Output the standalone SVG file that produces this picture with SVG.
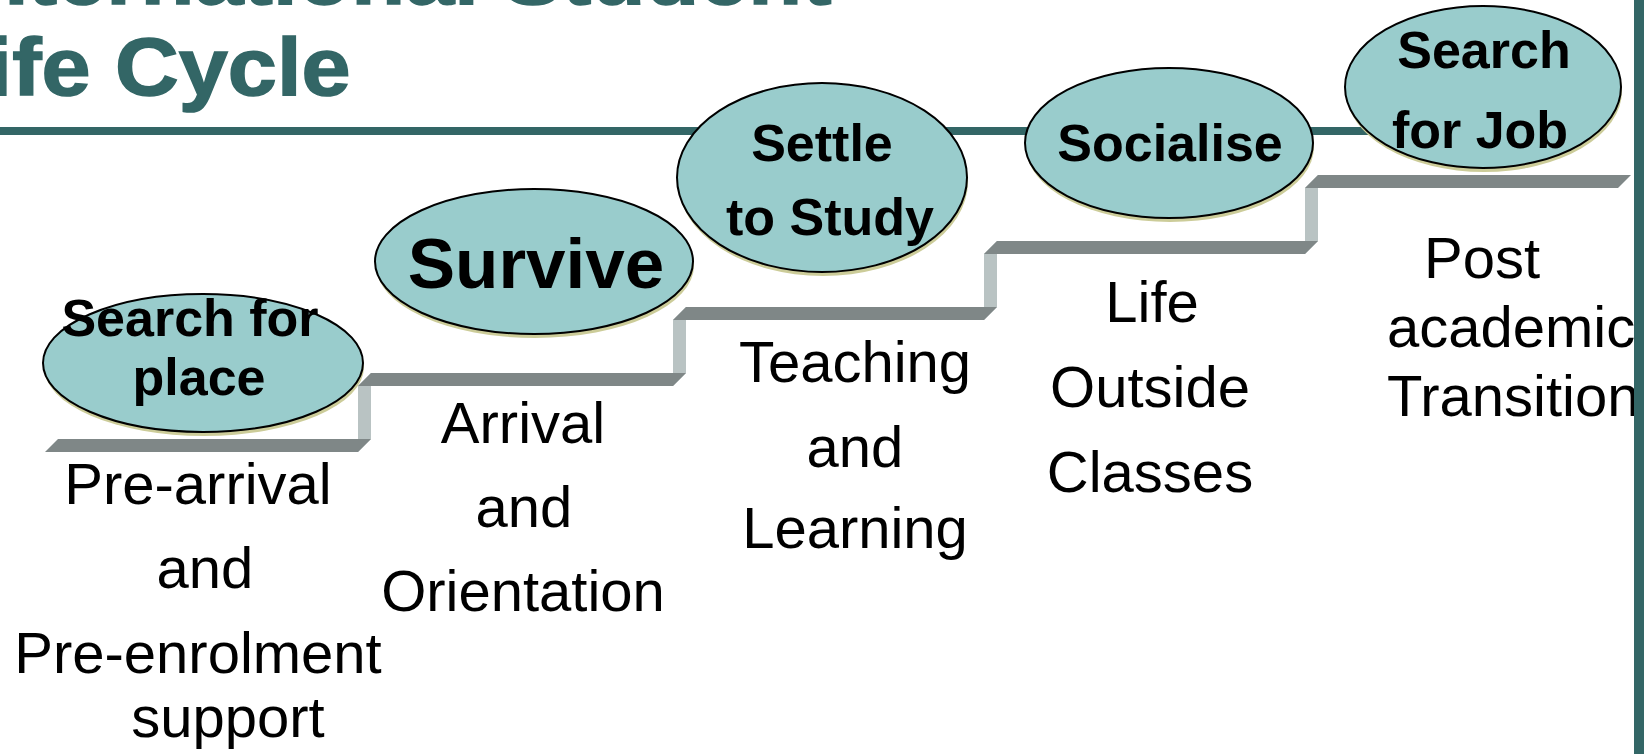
<svg xmlns="http://www.w3.org/2000/svg" width="1644" height="754" viewBox="0 0 1644 754">
<defs>
<style>
.title{font-family:"Liberation Sans",Arial,sans-serif;font-weight:bold;font-size:82px;fill:#336666;stroke:#336666;stroke-width:1.5}
.oval{fill:#99cccc;stroke:#000;stroke-width:2}
.shadow{fill:#cccc99}
.ol{font-family:"Liberation Sans",Arial,sans-serif;font-weight:bold;font-size:52px;fill:#000;text-anchor:middle}
.body{font-family:"Liberation Sans",Arial,sans-serif;font-size:58px;fill:#000;text-anchor:middle}
.bodys{font-family:"Liberation Sans",Arial,sans-serif;font-size:58px;fill:#000}
.tread{fill:#7f8787}
.riser{fill:#b9c3c3}
</style>
</defs>
<rect width="1644" height="754" fill="#ffffff"/>
<g id="title" transform="scale(1.076,1)">
<text class="title" x="-47" y="4">International Student</text>
<text class="title" x="-61.6" y="95">Life Cycle</text>
</g>
<rect id="rule" x="0" y="127" width="1420" height="8" fill="#336666"/>
<g id="connectors">
<polygon class="riser" points="358,452 358,386 371,373 371,439"/>
<polygon class="riser" points="673,386 673,320 686,307 686,373"/>
<polygon class="riser" points="984,320 984,254 997,241 997,307"/>
<polygon class="riser" points="1305,254 1305,188 1318,175 1318,241"/>
<polygon class="tread" points="45,452 358,452 371,439 58,439"/>
<polygon class="tread" points="358,386 673,386 686,373 371,373"/>
<polygon class="tread" points="673,320 984,320 997,307 686,307"/>
<polygon class="tread" points="984,254 1305,254 1318,241 997,241"/>
<polygon class="tread" points="1305,188 1618,188 1631,175 1318,175"/>
</g>
<g id="node-search-place">
<ellipse class="shadow" cx="204" cy="367" rx="160" ry="69"/>
<ellipse class="oval" cx="203" cy="363" rx="160" ry="69"/>
<text class="ol" x="190" y="336">Search for</text>
<text class="ol" x="199" y="395">place</text>
</g>
<g id="node-survive">
<ellipse class="shadow" cx="535" cy="265.5" rx="159" ry="72.5"/>
<ellipse class="oval" cx="534" cy="261.5" rx="159" ry="72.5"/>
<text class="ol" x="536" y="288" style="font-size:71px">Survive</text>
</g>
<g id="node-settle">
<ellipse class="shadow" cx="823" cy="181.5" rx="145" ry="94.5"/>
<ellipse class="oval" cx="822" cy="177.5" rx="145" ry="94.5"/>
<text class="ol" x="822" y="161">Settle</text>
<text class="ol" x="830" y="235">to Study</text>
</g>
<g id="node-socialise">
<ellipse class="shadow" cx="1170" cy="147" rx="144" ry="75"/>
<ellipse class="oval" cx="1169" cy="143" rx="144" ry="75"/>
<text class="ol" x="1170" y="161">Socialise</text>
</g>
<g id="node-search-job">
<ellipse class="shadow" cx="1484" cy="91" rx="138" ry="81"/>
<ellipse class="oval" cx="1483" cy="87" rx="138" ry="81"/>
<text class="ol" x="1484" y="68">Search</text>
<text class="ol" x="1480" y="148">for Job</text>
</g>
<g id="label-prearrival">
<text class="body" x="198" y="504">Pre-arrival</text>
<text class="body" x="205" y="588">and</text>
<text class="body" x="198" y="673">Pre-enrolment</text>
<text class="body" x="228" y="737">support</text>
</g>
<g id="label-arrival">
<text class="body" x="523" y="443">Arrival</text>
<text class="body" x="524" y="527">and</text>
<text class="body" x="523" y="611">Orientation</text>
</g>
<g id="label-teaching">
<text class="body" x="855" y="382">Teaching</text>
<text class="body" x="855" y="467">and</text>
<text class="body" x="855" y="548">Learning</text>
</g>
<g id="label-life">
<text class="body" x="1152" y="322">Life</text>
<text class="body" x="1150" y="407">Outside</text>
<text class="body" x="1150" y="492">Classes</text>
</g>
<g id="label-post">
<text class="bodys" x="1424" y="278">Post</text>
<text class="bodys" x="1387" y="347">academic</text>
<text class="bodys" x="1387" y="416">Transition</text>
</g>
<rect id="right-bar" x="1634" y="0" width="10" height="754" fill="#336666"/>
</svg>
